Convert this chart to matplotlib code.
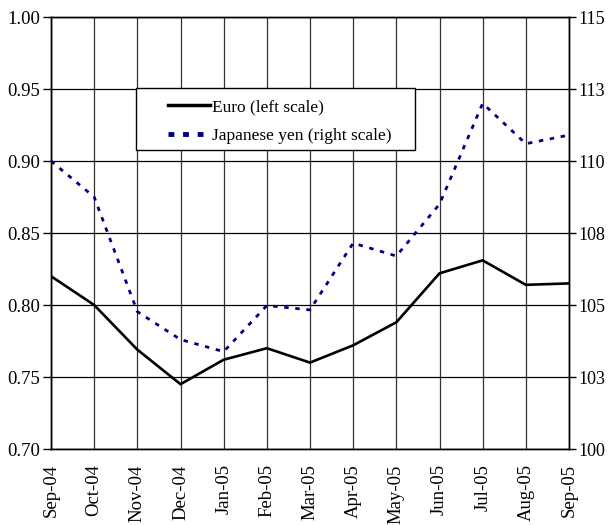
import matplotlib
matplotlib.use("Agg")
import matplotlib.pyplot as plt
from matplotlib.patches import Rectangle
from matplotlib.lines import Line2D

months = ["Sep-04", "Oct-04", "Nov-04", "Dec-04", "Jan-05", "Feb-05", "Mar-05",
          "Apr-05", "May-05", "Jun-05", "Jul-05", "Aug-05", "Sep-05"]
euro = [0.820, 0.800, 0.769, 0.745, 0.762, 0.770, 0.760, 0.772, 0.788, 0.822, 0.831, 0.814, 0.815]
yen = [110.0, 108.75, 104.77, 103.8, 103.38, 104.98, 104.83, 107.15, 106.7, 108.5, 112.0, 110.6, 110.9]

left_ticks = [0.70, 0.75, 0.80, 0.85, 0.90, 0.95, 1.00]
right_ticks = [100, 102.5, 105, 107.5, 110, 112.5, 115]
right_labels = ["100", "103", "105", "108", "110", "113", "115"]

plt.rcParams["font.family"] = ["Liberation Serif", "DejaVu Serif"]

fig = plt.figure(figsize=(6.08, 5.25), dpi=100)
ax = fig.add_axes([51 / 608, 1 - 449 / 525, 518 / 608, 432 / 525])
ax2 = ax.twinx()

x = list(range(len(months)))

# grid
for xi in x:
    ax.axvline(xi, color="#333333", lw=0.9, zorder=0)
for yv in left_ticks:
    ax.axhline(yv, color="black", lw=0.9, zorder=0)

ax.plot(x, euro, color="black", lw=1.9, solid_joinstyle="miter", zorder=3)
ax2.plot(x, yen, color="#000080", lw=2.0, linestyle=(0, (1.6, 2.4)), zorder=3)

ax.set_xlim(0, len(months) - 1)
ax.set_ylim(0.70, 1.00)
ax2.set_ylim(100, 115)

ax.set_xticks(x)
ax.set_xticklabels(months, rotation=90, fontsize=13.5)
ax.tick_params(axis="x", length=0, pad=11)
ax.set_yticks(left_ticks)
ax.set_yticklabels([f"{v:.2f}" for v in left_ticks], fontsize=13.5)
ax.tick_params(axis="y", length=6, width=1, pad=2)

ax2.set_yticks(right_ticks)
ax2.set_yticklabels(right_labels, fontsize=13)
ax2.tick_params(axis="y", length=5, width=1, pad=2)

for a in (ax, ax2):
    for s in a.spines.values():
        s.set_linewidth(1)
        s.set_color("black")

# legend box
fig.patches.append(Rectangle((136 / 608, 1 - 150 / 525), 279 / 608, 62 / 525,
                             transform=fig.transFigure, facecolor="white",
                             edgecolor="black", lw=1, zorder=5))
handles = [Line2D([], [], color="black", lw=2.5),
           Line2D([], [], color="#000080", lw=3.5, linestyle=(0, (1.2, 1.8)))]
fig.legend(handles, ["Euro (left scale)", "Japanese yen (right scale)"],
           loc="upper left", bbox_to_anchor=(156 / 608, 1 - 87 / 525),
           frameon=False, fontsize=12.5, handlelength=2.4, handletextpad=0.15,
           labelspacing=0.7, borderpad=0.2)

fig.savefig("out.png", dpi=100)
